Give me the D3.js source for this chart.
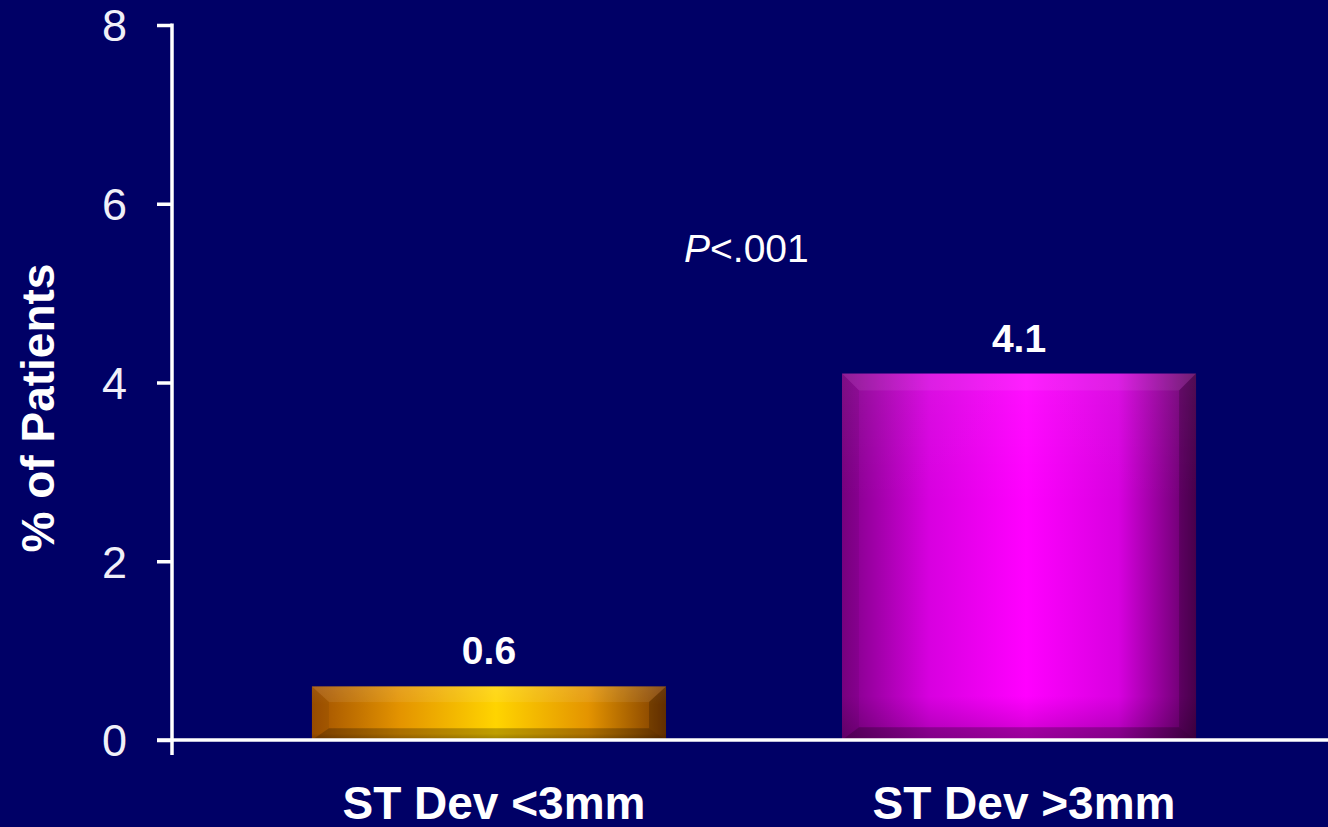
<!DOCTYPE html>
<html>
<head>
<meta charset="utf-8">
<script src="https://cdn.jsdelivr.net/npm/d3@7"></script>
<style>
  html, body { margin: 0; padding: 0; background: #000066; }
  svg { display: block; }
  text { font-family: "Liberation Sans", Arial, Helvetica, sans-serif; }
</style>
</head>
<body>
<script>
const categories = ["ST Dev <3mm", "ST Dev >3mm"];
const values = [0.6, 4.1];
const valueLabels = ["0.6", "4.1"];
const tickValues = [0, 2, 4, 6, 8];
const yTitle = "% of Patients";
const pLabel = ".001";

const W = 1328, H = 827;
const svg = d3.select("body").append("svg").attr("width", W).attr("height", H);
svg.append("rect").attr("width", W).attr("height", H).attr("fill", "#000066");

const y = d3.scaleLinear().domain([0, 8]).range([740, 25]);
const x = d3.scaleBand().domain(categories).range([172, 1336]).paddingInner(0.332).paddingOuter(0.264);

const defs = svg.append("defs");
const blur = defs.append("filter").attr("id", "soft").attr("x", "-5%").attr("y", "-200%").attr("width", "110%").attr("height", "500%");
blur.append("feGaussianBlur").attr("stdDeviation", 1.3);
const palettes = [
  { edge: "#a05000", mid: "#e49400", center: "#ffd400", hi: "#ffee66", dark: "#7a3a00" },
  { edge: "#7e0086", mid: "#d800e0", center: "#ff00ff", hi: "#ff8cff", dark: "#5a005e" }
];
palettes.forEach((p, i) => {
  const g = defs.append("linearGradient").attr("id", "hg" + i).attr("x1", 0).attr("x2", 1).attr("y1", 0).attr("y2", 0);
  g.append("stop").attr("offset", "0%").attr("stop-color", p.edge);
  g.append("stop").attr("offset", "25%").attr("stop-color", p.mid);
  g.append("stop").attr("offset", "52%").attr("stop-color", p.center);
  g.append("stop").attr("offset", "78%").attr("stop-color", p.mid);
  g.append("stop").attr("offset", "100%").attr("stop-color", p.dark);
  const v = defs.append("linearGradient").attr("id", "vg" + i).attr("x1", 0).attr("x2", 0).attr("y1", 0).attr("y2", 1);
  v.append("stop").attr("offset", "0%").attr("stop-color", "#ffffff").attr("stop-opacity", 0.06);
  v.append("stop").attr("offset", "35%").attr("stop-color", "#ffffff").attr("stop-opacity", 0);
  v.append("stop").attr("offset", "88%").attr("stop-color", "#000000").attr("stop-opacity", 0);
  v.append("stop").attr("offset", "100%").attr("stop-color", "#000000").attr("stop-opacity", 0.2);
});

// Bars
const bars = svg.append("g");
categories.forEach((c, i) => {
  const x0 = x(c), x1 = x(c) + x.bandwidth();
  const yt = y(values[i]), yb = y(0);
  const h = yb - yt;
  const bv = Math.min(17, h * 0.29);
  const bs = 17;
  const g = bars.append("g");
  g.append("rect").attr("x", x0).attr("y", yt).attr("width", x1 - x0).attr("height", h).attr("fill", `url(#hg${i})`);
  g.append("rect").attr("x", x0).attr("y", yt).attr("width", x1 - x0).attr("height", h).attr("fill", `url(#vg${i})`);
  // top bevel
  g.append("path").attr("d", `M${x0},${yt}L${x1},${yt}L${x1 - bs},${yt + bv}L${x0 + bs},${yt + bv}Z`)
    .attr("fill", "#ffffff").attr("fill-opacity", 0.07);
  // bottom bevel
  g.append("path").attr("d", `M${x0},${yb}L${x1},${yb}L${x1 - bs},${yb - bv * 0.75}L${x0 + bs},${yb - bv * 0.75}Z`)
    .attr("fill", "#000000").attr("fill-opacity", 0.25);
  // left bevel
  g.append("path").attr("d", `M${x0},${yt}L${x0 + bs},${yt + bv}L${x0 + bs},${yb - bv * 0.75}L${x0},${yb}Z`)
    .attr("fill", "#000000").attr("fill-opacity", 0.06);
  // right bevel
  g.append("path").attr("d", `M${x1},${yt}L${x1 - bs},${yt + bv}L${x1 - bs},${yb - bv * 0.75}L${x1},${yb}Z`)
    .attr("fill", "#000000").attr("fill-opacity", 0.2);
  // highlight line at inner top edge
  g.append("line").attr("x1", x0 + bs).attr("x2", x1 - bs).attr("y1", yt + bv).attr("y2", yt + bv)
    .attr("stroke", palettes[i].hi).attr("stroke-width", 4).attr("stroke-opacity", 0.75)
    .attr("filter", "url(#soft)");
  // value label
  svg.append("text").attr("x", x0 + x.bandwidth() / 2).attr("y", yt - 22)
    .attr("text-anchor", "middle").attr("font-size", 39).attr("font-weight", "bold")
    .attr("fill", "#ffffff").text(valueLabels[i]);
  // category label
  svg.append("text").attr("x", x0 + x.bandwidth() / 2 + 5).attr("y", 819)
    .attr("text-anchor", "middle").attr("font-size", 46).attr("font-weight", "bold")
    .attr("fill", "#ffffff").text(c);
});

// Y axis
const yAxis = d3.axisLeft(y).tickValues(tickValues).tickSize(15).tickSizeOuter(0).tickPadding(30).tickFormat(d3.format("d"));
const ya = svg.append("g").attr("transform", "translate(172,0)").call(yAxis);
ya.select(".domain").remove();
ya.selectAll(".tick line").attr("stroke", "#ffffff").attr("stroke-width", 3.5);
ya.selectAll(".tick text").attr("fill", "#f0f0f8").attr("font-size", 45)
  .attr("font-family", "'Liberation Sans', Arial, sans-serif").attr("dy", "0.35em");
svg.append("line").attr("x1", 172).attr("x2", 172).attr("y1", y(8) - 1.5).attr("y2", y(0) + 15)
  .attr("stroke", "#ffffff").attr("stroke-width", 3.5);

// X axis line
svg.append("line").attr("x1", 157).attr("x2", W).attr("y1", y(0)).attr("y2", y(0))
  .attr("stroke", "#ffffff").attr("stroke-width", 3.5);

// Y title
svg.append("text").attr("transform", "translate(54,408) rotate(-90)")
  .attr("text-anchor", "middle").attr("font-size", 46).attr("font-weight", "bold")
  .attr("fill", "#ffffff").text(yTitle);

// P value
const pt = svg.append("text").attr("x", 684).attr("y", 262).attr("font-size", 39).attr("fill", "#ffffff");
pt.append("tspan").attr("font-style", "italic").text("P");
pt.append("tspan").text("<" + pLabel);
</script>
</body>
</html>
